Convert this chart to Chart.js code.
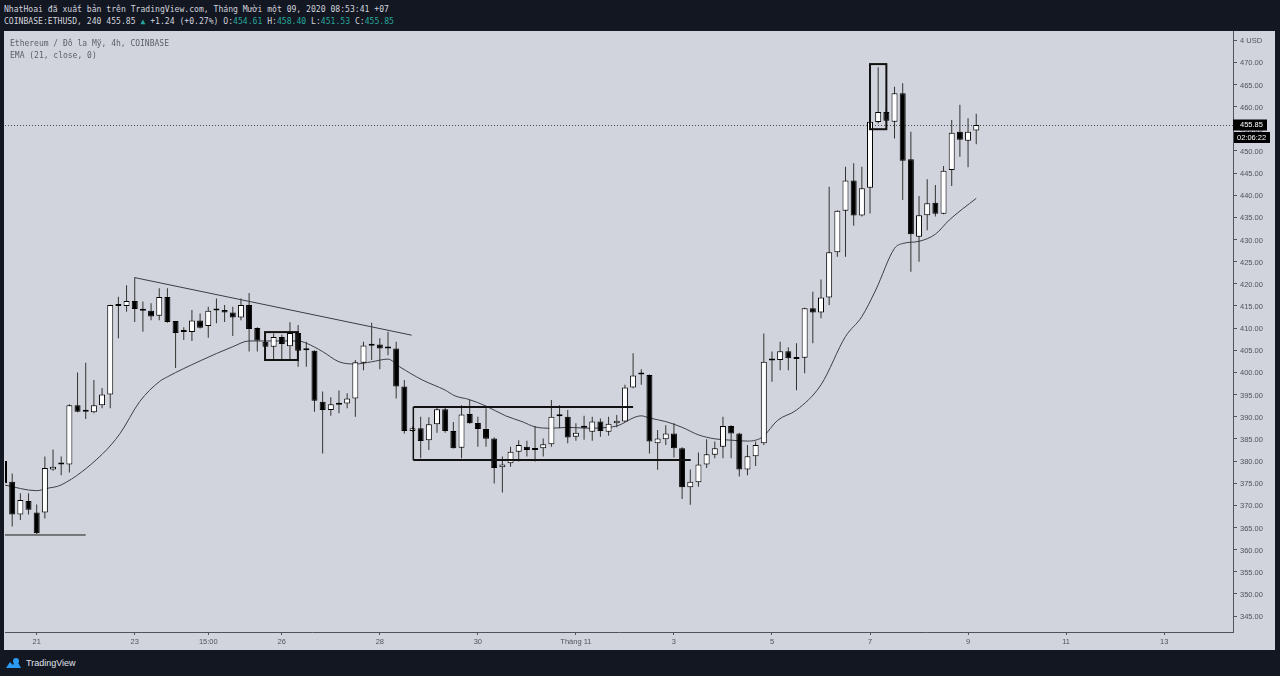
<!DOCTYPE html>
<html><head><meta charset="utf-8">
<script src="https://cdn.jsdelivr.net/npm/chart.js@4/dist/chart.umd.min.js"></script>
<style>
html,body{margin:0;padding:0;background:#131722;width:1280px;height:676px;overflow:hidden;}
#hdr{position:absolute;left:4px;top:3px;font:8.1px "DejaVu Sans Mono",monospace;color:#d1d4dc;line-height:12px;white-space:pre;}
#hdr .v{color:#26a69a}
#wrap{position:absolute;left:4px;top:31px;width:1271px;height:619px;background:#d1d4dc;}
#legend{position:absolute;left:10px;top:38px;font:8px "DejaVu Sans Mono",monospace;color:#5d606b;line-height:12px;white-space:pre;}
#footer{position:absolute;left:5px;top:656px;height:14px;display:flex;align-items:center;font:9px "Liberation Sans",Arial,sans-serif;color:#e0e3eb;}
#footer svg{margin-right:4px}
</style></head>
<body>
<div id="hdr">NhatHoai đã xuất bản trên TradingView.com, Tháng Mười một 09, 2020 08:53:41 +07
COINBASE:ETHUSD, 240 455.85 <span class="v">▲</span> +1.24 (+0.27%) O:<span class="v">454.61</span> H:<span class="v">458.40</span> L:<span class="v">451.53</span> C:<span class="v">455.85</span></div>
<div id="wrap"><canvas id="c" width="1271" height="619"></canvas></div>
<div id="legend">Ethereum / Đô la Mỹ, 4h, COINBASE
EMA (21, close, 0)</div>
<div id="footer"><svg width="17" height="12" viewBox="0 0 17 12"><path d="M1 11 L5 5 L8 8 L11 2 L16 11 Z" fill="#2a9bf0"/><circle cx="11" cy="4" r="3" fill="#2a9bf0"/></svg>TradingView</div>
<script>
// ---- data (bar index 0 = 21 Oct 03:00, 4h bars) ----
const startIndex = -4;
const opens = [
380.0, 375.3, 367.9, 371.0, 368.4, 368.4, 378.1, 379.2, 379.2, 392.6,
391.1, 391.0, 392.6, 395.0, 415.2, 415.0, 416.1, 414.3, 413.9, 412.8,
417.0, 411.6, 409.1, 409.1, 411.7, 410.5, 414.0, 414.1, 413.5, 412.4,
415.2, 410.0, 406.9, 405.8, 408.0, 405.9, 408.9, 405.2, 404.9, 393.4,
391.5, 392.7, 393.0, 394.1, 402.2, 406.2, 406.3, 405.5, 405.4, 396.8,
386.8, 387.4, 384.7, 388.3, 391.7, 386.8, 383.0, 390.6, 388.6, 387.2,
385.1, 378.6, 379.5, 382.1, 383.2, 382.5, 382.9, 383.8, 390.1, 390.0,
385.5, 387.5, 386.6, 388.9, 386.6, 388.5, 388.9, 396.6, 399.5, 399.4,
384.0, 384.9, 386.2, 382.9, 374.1, 375.2, 379.2, 381.4, 383.2, 387.9,
386.2, 378.1, 381.1, 384.0, 402.7, 402.8, 404.8, 403.0, 403.3, 414.5,
413.5, 416.9, 427.1, 436.5, 443.3, 435.4, 441.7, 456.5, 458.8, 456.6,
463.0, 448.1, 430.6, 435.5, 438.3, 435.8, 445.7, 454.3, 452.3, 454.61
];
const highs = [
381.0, 377.2, 372.7, 372.7, 370.2, 381.0, 382.6, 381.0, 392.8, 400.0,
402.2, 398.3, 396.5, 415.3, 417.1, 419.7, 421.5, 416.0, 415.6, 419.0,
419.0, 411.6, 410.2, 414.1, 413.3, 414.8, 416.7, 415.2, 414.8, 416.7,
417.9, 410.2, 408.8, 408.8, 408.5, 411.3, 410.7, 406.9, 405.0, 395.7,
394.4, 395.9, 395.3, 402.8, 406.9, 411.2, 407.7, 409.2, 406.9, 398.3,
387.8, 390.0, 389.9, 392.0, 392.0, 388.8, 392.6, 393.8, 390.0, 391.9,
385.3, 381.0, 383.2, 384.7, 384.6, 387.9, 385.1, 393.8, 392.6, 391.5,
388.5, 390.2, 390.0, 389.6, 390.0, 390.4, 397.2, 404.3, 400.7, 399.5,
387.0, 388.1, 388.5, 383.1, 378.1, 381.9, 384.9, 384.4, 390.0, 388.1,
386.4, 383.6, 384.4, 408.8, 404.7, 406.9, 405.7, 406.6, 414.6, 418.2,
421.0, 441.9, 436.6, 446.4, 447.2, 446.4, 456.8, 468.9, 459.5, 464.5,
465.3, 454.3, 439.8, 443.6, 442.3, 446.6, 457.0, 460.4, 457.4, 458.40
];
const lows = [
373.0, 365.2, 366.7, 367.9, 363.5, 367.0, 377.8, 376.8, 377.4, 391.0,
389.5, 390.8, 391.9, 391.9, 407.7, 413.7, 411.4, 409.2, 411.8, 411.8,
411.2, 401.0, 407.3, 407.1, 409.9, 407.8, 411.1, 411.4, 408.2, 411.8,
404.7, 404.7, 402.8, 402.8, 402.8, 402.8, 401.3, 401.3, 391.1, 381.7,
390.2, 390.8, 391.9, 390.0, 400.5, 402.8, 400.7, 403.9, 394.1, 386.2,
386.6, 380.6, 382.5, 386.4, 386.4, 382.8, 380.6, 388.4, 383.2, 383.2,
374.9, 372.9, 378.7, 379.9, 381.0, 379.9, 381.0, 383.2, 387.4, 384.0,
384.6, 384.8, 384.6, 385.5, 385.7, 387.6, 388.8, 396.4, 397.2, 381.7,
378.0, 383.6, 380.8, 371.4, 370.1, 374.2, 378.4, 380.6, 380.6, 380.6,
376.5, 376.8, 378.9, 383.6, 397.9, 400.5, 400.5, 396.0, 399.8, 406.6,
412.2, 415.2, 426.1, 426.1, 433.1, 435.2, 435.9, 456.2, 456.2, 452.8,
438.9, 422.7, 425.0, 432.1, 435.2, 435.7, 442.1, 448.7, 446.3, 451.53
];
const closes = [
375.0, 367.9, 371.2, 369.0, 363.7, 378.4, 378.7, 379.4, 392.6, 391.1,
391.3, 392.6, 395.0, 415.2, 415.0, 416.1, 414.3, 413.9, 412.6, 417.0,
411.4, 408.9, 409.3, 411.7, 410.1, 413.9, 414.3, 413.5, 412.4, 415.2,
409.8, 407.2, 405.8, 408.0, 406.4, 408.9, 404.9, 405.0, 393.6, 391.5,
392.8, 392.9, 394.1, 402.3, 406.1, 406.0, 405.4, 405.4, 396.8, 386.8,
387.4, 384.5, 388.3, 391.7, 386.8, 382.9, 390.5, 388.5, 387.2, 385.0,
378.4, 379.2, 382.1, 383.6, 382.5, 382.9, 383.8, 390.0, 390.3, 385.3,
386.4, 387.7, 388.9, 386.8, 388.4, 389.1, 396.6, 399.3, 399.7, 384.4,
385.1, 386.2, 382.9, 374.1, 375.3, 379.2, 381.5, 382.9, 387.9, 386.2,
378.1, 381.1, 383.6, 402.4, 402.9, 404.8, 403.2, 403.4, 414.5, 413.5,
416.9, 427.1, 436.5, 443.3, 435.4, 441.6, 456.6, 458.8, 456.8, 463.0,
447.8, 431.2, 435.5, 438.2, 435.8, 445.5, 454.1, 452.5, 454.3, 455.85
];
// EMA(21) (bar position, value)
const emaIndex = [-4, 0, 1.2, 3, 8, 10.2, 12.6, 15, 16, 20, 24, 26, 28, 32, 33, 35, 37, 39, 41, 43, 44.4, 47.2, 50, 51.2, 52.9, 55, 57.4, 59.4, 61, 63, 65, 67.5, 70, 71, 74, 75, 77, 79, 81, 83, 85, 87, 88, 88.9, 90.7, 93, 96, 99, 101, 102.7, 105, 106, 108, 110, 111.7, 115];
const emaValue = [374.6, 373.3, 373.8, 374.6, 381.5, 386.2, 393.4, 397.9, 399.0, 402.6, 405.8, 407.1, 407.1, 407.1, 406.6, 404.7, 402.4, 401.9, 402.4, 403.0, 401.3, 398.3, 396.0, 394.7, 393.9, 392.4, 390.2, 388.9, 387.7, 387.4, 387.6, 387.4, 387.6, 387.9, 390.2, 389.7, 388.9, 387.6, 385.9, 385.0, 384.7, 384.5, 384.7, 385.5, 389.2, 391.5, 397.2, 408.1, 412.6, 418.6, 428.0, 429.1, 429.6, 431.2, 434.4, 439.3];
// axis ticks
const xTickIndex = [0, 12, 21, 30, 42, 54, 66, 78, 90, 102, 114, 126, 138];
const xTickLabels = ['21', '23', '15:00', '26', '28', '30', 'Tháng 11', '3', '5', '7', '9', '11', '13'];
const yTickValues = [345, 350, 355, 360, 365, 370, 375, 380, 385, 390, 395, 400, 405, 410, 415, 420, 425, 430, 435, 440, 445, 450, 455, 460, 465, 470, 475];
const lastPrice = 455.85;
const countdown = '02:06:22';
// drawings (bar position, price)
const trendLine = [[12, 421.4], [45.9, 408.4]];
const supportLine = [[-3.9, 363.3], [6, 363.3]];
const boxes = [[27.95, 31.97, 402.8, 409.1], [102.0, 104.0, 454.9, 469.6]];
const rangeTop = [[46.1, 392.2], [73.0, 392.2]];
const rangeBottom = [[46.1, 380.2], [80.05, 380.2]];

// ---- build ----
const xs = opens.map((_, i) => startIndex + i);
const wickData = xs.map((x, i) => ({x, y: [lows[i], highs[i]]}));
const bodyData = xs.map((x, i) => ({x, y: [opens[i], closes[i]]}));
const bodyColors = xs.map((_, i) => closes[i] >= opens[i] ? '#ffffff' : '#000000');
const emaData = emaIndex.map((x, i) => ({x, y: emaValue[i]}));

const axisColor = '#50535e';
const tickFont = {family: '"Liberation Sans", Arial, sans-serif', size: 7.5};
const noPad = s => { s.paddingTop = 0; s.paddingBottom = 0; s.paddingLeft = 0; s.paddingRight = 0; };

const drawings = {
  id: 'drawings',
  beforeDatasetsDraw(chart) {
    const {ctx, chartArea: a, scales: {y}} = chart;
    const py = Math.round(y.getPixelForValue(lastPrice)) + 0.5;
    ctx.save();
    ctx.strokeStyle = '#4a4d57'; ctx.lineWidth = 1; ctx.setLineDash([1, 2]);
    ctx.beginPath(); ctx.moveTo(a.left, py); ctx.lineTo(a.right, py); ctx.stroke();
    ctx.restore();
  },
  afterDatasetsDraw(chart) {
    const {ctx, chartArea: a, scales: {x, y}} = chart;
    const P = (p) => [x.getPixelForValue(p[0]), y.getPixelForValue(p[1])];
    ctx.save();
    ctx.beginPath(); ctx.rect(a.left, a.top, a.right - a.left, a.bottom - a.top); ctx.clip();
    const line = (pts, w, c) => {
      ctx.strokeStyle = c; ctx.lineWidth = w; ctx.beginPath();
      const p0 = P(pts[0]), p1 = P(pts[1]);
      ctx.moveTo(p0[0], p0[1]); ctx.lineTo(p1[0], p1[1]); ctx.stroke();
    };
    line(trendLine, 1, '#3a3d46');
    line(supportLine, 1, '#1a1a1a');
    line(rangeTop, 2, '#111');
    line(rangeBottom, 2, '#111');
    line([rangeTop[0], rangeBottom[0]], 1.5, '#111');
    boxes.forEach(b => {
      const x0 = x.getPixelForValue(b[0]), x1 = x.getPixelForValue(b[1]);
      const y0 = y.getPixelForValue(b[3]), y1 = y.getPixelForValue(b[2]);
      ctx.strokeStyle = '#111'; ctx.lineWidth = 2;
      ctx.strokeRect(x0, y0, x1 - x0, y1 - y0);
    });
    ctx.restore();
  },
  afterDraw(chart) {
    const {ctx, chartArea: a, scales: {y}} = chart;
    const py = y.getPixelForValue(lastPrice);
    ctx.save();
    ctx.fillStyle = '#000';
    ctx.fillRect(a.right, py - 5.5, 34, 11);
    ctx.fillRect(a.right + 1, py + 7, 36, 11);
    ctx.fillStyle = '#ffffff';
    ctx.font = '7.5px "Liberation Sans", Arial, sans-serif';
    ctx.textBaseline = 'middle'; ctx.textAlign = 'left';
    ctx.fillText(lastPrice.toFixed(2), a.right + 7, py);
    ctx.fillText(countdown, a.right + 4, py + 12.5);
    ctx.restore();
  }
};

new Chart(document.getElementById('c'), {
  type: 'bar',
  data: {
    datasets: [
      {type: 'line', data: emaData, borderColor: '#3c3f48', borderWidth: 1, pointRadius: 0, cubicInterpolationMode: 'monotone', order: 3},
      {data: wickData, backgroundColor: '#333333', barThickness: 1, grouped: false, order: 2, inflateAmount: 0},
      {data: bodyData, backgroundColor: bodyColors, borderColor: '#000', borderWidth: 1, borderSkipped: false, barThickness: 6, minBarLength: 2, grouped: false, order: 1, inflateAmount: 0}
    ]
  },
  options: {
    responsive: false, animation: false, devicePixelRatio: 1,
    layout: {padding: {left: 1, top: 0, right: 0, bottom: 0}},
    plugins: {legend: {display: false}, tooltip: {enabled: false}},
    scales: {
      x: {
        type: 'linear', min: -3.88, max: 146.43, offset: false,
        afterFit: s => { s.height = 18; noPad(s); },
        afterBuildTicks: s => { s.ticks = xTickIndex.map(v => ({value: v})); },
        grid: {drawOnChartArea: false, drawTicks: true, tickLength: 3, color: axisColor, offset: false},
        border: {display: true, color: axisColor, width: 1},
        ticks: {autoSkip: false, maxRotation: 0, padding: 2, color: '#50535e', font: tickFont,
          callback: (v) => { const k = xTickIndex.indexOf(v); return k >= 0 ? xTickLabels[k] : ''; }}
      },
      y: {
        type: 'linear', position: 'right', min: 341.40, max: 477.07,
        afterFit: s => { s.width = 42; noPad(s); },
        afterBuildTicks: s => { s.ticks = yTickValues.map(v => ({value: v})); },
        grid: {drawOnChartArea: false, drawTicks: true, tickLength: 4, color: axisColor},
        border: {display: true, color: axisColor, width: 1},
        ticks: {autoSkip: false, padding: 3, labelOffset: 1, color: '#50535e', font: tickFont,
          callback: (v) => v === 475 ? '4 USD' : Number(v).toFixed(2)}
      }
    }
  },
  plugins: [drawings]
});
</script>
</body></html>
